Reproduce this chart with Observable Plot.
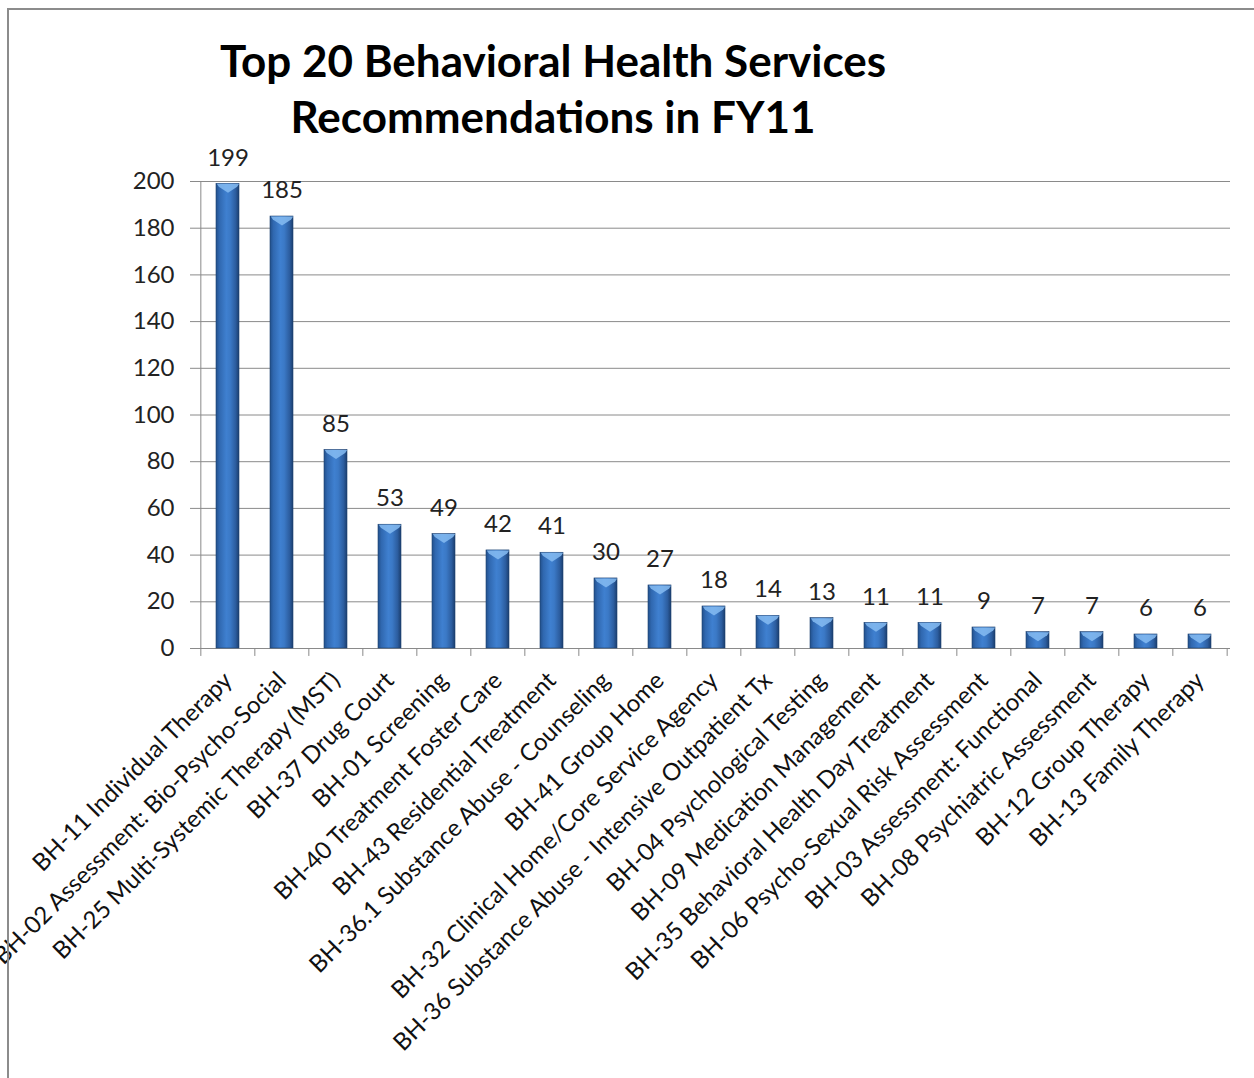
<!DOCTYPE html>
<html>
<head>
<meta charset="utf-8">
<script src="https://cdn.jsdelivr.net/npm/d3@7"></script>
<script src="https://cdn.jsdelivr.net/npm/@observablehq/plot@0.6"></script>
<style>
  html, body { margin: 0; padding: 0; background: #fff; overflow: hidden; }
  #wrap { position: relative; width: 1254px; height: 1078px; }
  #frame { position: absolute; left: 7px; top: 8px; width: 1400px; height: 1300px;
           border: 2px solid #8c8c8c; box-sizing: border-box; pointer-events: none; }
  #title { position: relative; height: 150px; box-sizing: border-box; padding-top: 32px;
           width: 900px; margin-left: 103px; text-align: center;
           font-family: Lato, "Open Sans", sans-serif; font-weight: bold; font-size: 44px;
           line-height: 56px; color: #000; }
  #chart svg { display: block; }
</style>
</head>
<body>
<div id="wrap">
  <div id="frame"></div>
  <div id="title">Top 20 Behavioral Health Services<br>Recommendations in FY11</div>
  <div id="chart"></div>
</div>
<script>
const categories = [
  "BH-11 Individual Therapy",
  "BH-02 Assessment: Bio-Psycho-Social",
  "BH-25 Multi-Systemic Therapy (MST)",
  "BH-37 Drug Court",
  "BH-01 Screening",
  "BH-40 Treatment Foster Care",
  "BH-43 Residential Treatment",
  "BH-36.1 Substance Abuse - Counseling",
  "BH-41 Group Home",
  "BH-32 Clinical Home/Core Service Agency",
  "BH-36 Substance Abuse - Intensive Outpatient Tx",
  "BH-04 Psychological Testing",
  "BH-09 Medication Management",
  "BH-35 Behavioral Health Day Treatment",
  "BH-06 Psycho-Sexual Risk Assessment",
  "BH-03 Assessment: Functional",
  "BH-08 Psychiatric Assessment",
  "BH-12 Group Therapy",
  "BH-13 Family Therapy"
];
const values = [199, 185, 85, 53, 49, 42, 41, 30, 27, 18, 14, 13, 11, 11, 9, 7, 7, 6, 6];
const yTicks = [0, 20, 40, 60, 80, 100, 120, 140, 160, 180, 200];

const data = categories.map((name, i) => ({name, value: values[i]}));

const W = 1254, H = 928, ML = 198, MR = 24, MT = 31, MB = 430;
const PAD = 0.57;
const step = (W - ML - MR) / categories.length;
const bw = step * (1 - PAD);

const bevel = {
  draw(ctx) {
    const h = bw / 2 - 0.5;
    ctx.moveTo(-h, 0);
    ctx.lineTo(h, 0);
    ctx.lineTo(h - 2, 3);
    ctx.lineTo(0, 9);
    ctx.lineTo(-h + 2, 3);
    ctx.closePath();
  }
};

const chart = Plot.plot({
  width: W, height: H,
  marginLeft: ML, marginRight: MR, marginTop: MT, marginBottom: MB,
  style: {fontFamily: "Lato, 'Open Sans', sans-serif", fontSize: "24px", color: "#222", background: "transparent", overflow: "visible"},
  x: {domain: categories, paddingInner: PAD, paddingOuter: PAD / 2, label: null},
  y: {domain: [0, 200], label: null},
  marks: [
    Plot.gridY(yTicks, {stroke: "#8a8a8a", strokeOpacity: 1, strokeWidth: 1}),
    Plot.axisY(yTicks, {tickSize: 8, tickPadding: 16, stroke: "#8a8a8a", fill: "#222", fontSize: 24, label: null}),
    Plot.axisX({tickSize: 0, tickRotate: -45, tickPadding: 28, fill: "#111", fontSize: 24, label: null}),
    Plot.ruleX(categories, {x: d => d, y1: -3.4, y2: d => d === categories[0] ? 200 : 0, dx: -step / 2, stroke: "#8a8a8a", clip: false}),
    Plot.ruleX(categories.slice(-1), {x: d => d, y1: -3.4, y2: 0, dx: step / 2, stroke: "#8a8a8a"}),
    Plot.barY(data, {x: "name", y: "value", fill: "url(#barGrad)", stroke: "#1d406f", strokeWidth: 0.6}),
    Plot.dot(data, {x: "name", y: "value", symbol: bevel, fill: "#86bcf2", fillOpacity: 0.85, stroke: "none", r: 5}),
    Plot.text(data, {x: "name", y: "value", text: d => String(d.value), dy: -26, fontSize: 24, fill: "#222"})
  ]
});

const svg = d3.select(chart);
const defs = svg.insert("defs", ":first-child");
const g = defs.append("linearGradient").attr("id", "barGrad").attr("x1", "0").attr("x2", "1").attr("y1", "0").attr("y2", "0");
[["0%", "#22508c"], ["15%", "#3068b0"], ["45%", "#3f80d0"], ["62%", "#3b79c6"], ["85%", "#2c5d9f"], ["100%", "#1b3e6e"]]
  .forEach(([o, c]) => g.append("stop").attr("offset", o).attr("stop-color", c));

document.getElementById("chart").appendChild(chart);
</script>
</body>
</html>
